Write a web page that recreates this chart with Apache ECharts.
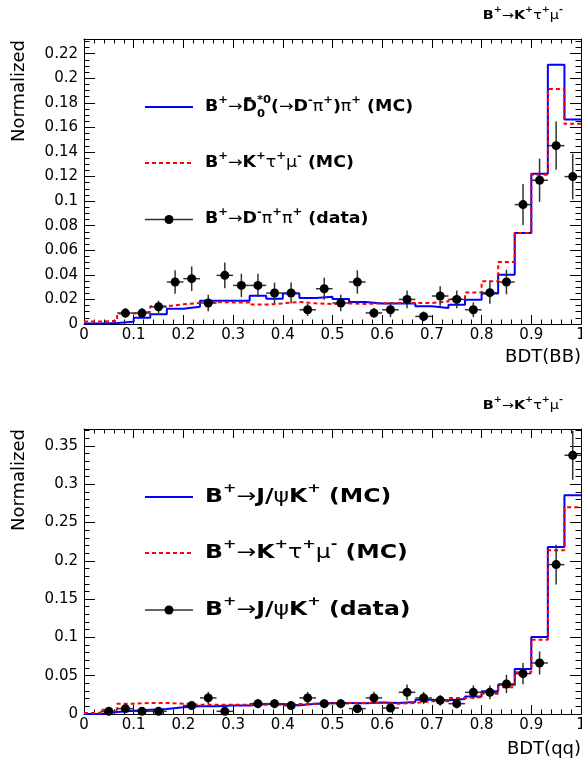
<!DOCTYPE html>
<html>
<head>
<meta charset="utf-8">
<script src="https://cdn.jsdelivr.net/npm/echarts@6/dist/echarts.min.js"></script>
<style>
  html, body { margin: 0; padding: 0; background: #fff; }
  #chart { width: 582px; height: 764px; }
</style>
</head>
<body>
<div id="chart"></div>
<script>
const FONT = 'DejaVu Sans';

// binning of the BDT output
const binLo = 0, binHi = 1, nBins = 30;
const binW = (binHi - binLo) / nBins;
const binEdges = Array.from({ length: nBins + 1 }, (_, i) => binLo + i * binW);

// top panel : BDT(BB)
const bbControlMC = [0.0005, 0.0008, 0.0018, 0.005, 0.008, 0.0125, 0.014, 0.019, 0.019, 0.019,
  0.023, 0.0206, 0.0249, 0.0212, 0.0222, 0.0203, 0.0179, 0.0166, 0.0166, 0.0166,
  0.0144, 0.013, 0.0157, 0.0198, 0.0248, 0.040, 0.0741, 0.1224, 0.211, 0.1664];
const bbSignalMC = [0.002, 0.0025, 0.0085, 0.010, 0.0145, 0.016, 0.0172, 0.0178, 0.0176, 0.0176,
  0.0158, 0.0168, 0.018, 0.0168, 0.0163, 0.0168, 0.0163, 0.0168, 0.0171, 0.0171,
  0.0171, 0.0184, 0.0203, 0.0257, 0.0347, 0.0505, 0.0741, 0.1215, 0.1913, 0.163];
const bbData = [null, null, 0.0089, 0.0089, 0.014, 0.0342, 0.0369, 0.0171, 0.0396, 0.0314,
  0.0314, 0.0252, 0.0252, 0.0116, 0.0287, 0.0171, 0.0342, 0.009, 0.0116, 0.020,
  0.0062, 0.0228, 0.020, 0.0116, 0.0255, 0.0342, 0.0972, 0.117, 0.1452, 0.120];
const bbErr = [null, null, 0.004, 0.004, 0.005, 0.0095, 0.010, 0.0068, 0.0104, 0.0095,
  0.0095, 0.0085, 0.0085, 0.005, 0.009, 0.0068, 0.0095, 0.004, 0.006, 0.0072,
  0.004, 0.008, 0.0072, 0.006, 0.009, 0.010, 0.0167, 0.0176, 0.0197, 0.0186];

// bottom panel : BDT(qq)
const qqControlMC = [0, 0.0026, 0.0044, 0.0057, 0.0065, 0.0087, 0.010, 0.010, 0.011, 0.011,
  0.013, 0.013, 0.0113, 0.0135, 0.0144, 0.0144, 0.014, 0.015, 0.0144, 0.0157,
  0.0187, 0.0178, 0.0196, 0.023, 0.0296, 0.0383, 0.0587, 0.1005, 0.218, 0.2855];
const qqSignalMC = [0.0013, 0.0057, 0.0135, 0.0144, 0.0144, 0.0135, 0.0122, 0.0122, 0.0122, 0.0122,
  0.0122, 0.0122, 0.013, 0.0135, 0.0144, 0.0144, 0.0144, 0.015, 0.0135, 0.0144,
  0.0165, 0.0165, 0.0209, 0.022, 0.0265, 0.0348, 0.0544, 0.097, 0.2137, 0.2698];
const qqData = [null, 0.0035, 0.007, 0.0035, 0.0035, null, 0.011, 0.021, 0.0035, null,
  0.0135, 0.0135, 0.011, 0.021, 0.0135, 0.0135, 0.007, 0.021, 0.0078, 0.0283,
  0.0209, 0.0178, 0.0135, 0.0283, 0.0283, 0.0392, 0.0527, 0.0666, 0.195, 0.3377];
const qqErr = [null, 0.003, 0.004, 0.003, 0.003, null, 0.005, 0.008, 0.003, null,
  0.006, 0.006, 0.005, 0.008, 0.006, 0.006, 0.004, 0.008, 0.005, 0.0102,
  0.008, 0.007, 0.006, 0.009, 0.009, 0.012, 0.014, 0.015, 0.026, 0.032];

function stepData(vals) {
  return binEdges.map((e, i) => [e, vals[Math.min(i, vals.length - 1)]]);
}

function pointData(vals, errs) {
  return vals
    .map((v, i) => (v == null ? null : [binLo + (i + 0.5) * binW, v, errs[i]]))
    .filter(Boolean);
}

function renderPoint(params, api) {
  const x = api.value(0), y = api.value(1), e = api.value(2);
  const l = api.coord([x - binW / 2, y]);
  const r = api.coord([x + binW / 2, y]);
  const t = api.coord([x, y + e]);
  const b = api.coord([x, y - e]);
  const c = api.coord([x, y]);
  const bar = { stroke: '#333', lineWidth: 1.5 };
  return {
    type: 'group',
    children: [
      { type: 'line', shape: { x1: l[0], y1: l[1], x2: r[0], y2: r[1] }, style: bar },
      { type: 'line', shape: { x1: t[0], y1: t[1], x2: b[0], y2: b[1] }, style: bar },
      { type: 'circle', shape: { cx: c[0], cy: c[1], r: 4.5 }, style: { fill: '#000' } }
    ]
  };
}

function xAx(grid, pos) {
  return {
    type: 'value', gridIndex: grid, position: pos,
    min: 0, max: 1, interval: 0.1,
    axisLine: { show: true, onZero: false, lineStyle: { color: '#000', width: 1 } },
    axisTick: { show: true, inside: true, length: 9, lineStyle: { color: '#000' } },
    minorTick: { show: true, splitNumber: 5, length: 4.5, lineStyle: { color: '#000' } },
    axisLabel: { show: pos === 'bottom', margin: 4, fontFamily: FONT, fontSize: 15, color: '#000' },
    splitLine: { show: false }
  };
}

function yAx(grid, pos, max, step, minor) {
  return {
    type: 'value', gridIndex: grid, position: pos,
    min: 0, max: max, interval: step,
    axisLine: { show: true, onZero: false, lineStyle: { color: '#000', width: 1 } },
    axisTick: { show: true, inside: true, length: 11, lineStyle: { color: '#000' } },
    minorTick: { show: true, splitNumber: minor, length: 5.5, lineStyle: { color: '#000' } },
    axisLabel: { show: pos === 'left', showMaxLabel: false, margin: 6,
      fontFamily: FONT, fontSize: 15, color: '#000' },
    splitLine: { show: false }
  };
}

function histSeries(axis, vals, color, dashed) {
  return {
    type: 'line', xAxisIndex: axis, yAxisIndex: axis,
    data: stepData(vals), step: 'end', symbol: 'none', silent: true,
    lineStyle: { color: color, width: 2, type: dashed ? [4, 3] : 'solid' },
    z: dashed ? 3 : 2
  };
}

function dataSeries(axis, vals, errs) {
  return {
    type: 'custom', xAxisIndex: axis, yAxisIndex: axis,
    data: pointData(vals, errs), encode: { x: 0, y: 1 },
    renderItem: renderPoint, z: 4
  };
}

function rich(size) {
  const lh = Math.round(size * 1.6);
  const base = { fontFamily: FONT, color: '#000' };
  return {
    b: Object.assign({ fontWeight: 'bold', fontSize: size, lineHeight: lh }, base),
    g: Object.assign({ fontSize: size, lineHeight: lh }, base),
    sup: Object.assign({ fontWeight: 'bold', fontSize: Math.round(size * 0.67),
      lineHeight: Math.round(lh * 0.55), verticalAlign: 'top' }, base),
    supz: Object.assign({ fontWeight: 'bold', fontSize: Math.round(size * 0.67),
      lineHeight: Math.round(lh * 0.55), verticalAlign: 'top', width: 0 }, base),
    sub: Object.assign({ fontWeight: 'bold', fontSize: Math.round(size * 0.67),
      lineHeight: Math.round(lh * 0.25), verticalAlign: 'bottom', width: Math.round(size * 0.8) }, base),
    ov: Object.assign({ fontWeight: 'bold', fontSize: Math.round(size * 1.25),
      lineHeight: lh, width: 0 }, base)
  };
}

// the original text is set a little wider than our font, hence the scaleX
function label(x, y, text, size, align, stretch) {
  return {
    type: 'text', x: x, y: y, scaleX: stretch || 1, silent: true,
    style: { text: text, rich: rich(size), align: align || 'left', verticalAlign: 'middle' }
  };
}

function legendRow(y, kind, text, size, stretch) {
  const items = [];
  if (kind === 'blue') {
    items.push({ type: 'line', shape: { x1: 145, y1: y, x2: 193, y2: y }, style: { stroke: '#0000ff', lineWidth: 2 } });
  } else if (kind === 'red') {
    items.push({ type: 'line', shape: { x1: 145, y1: y, x2: 193, y2: y }, style: { stroke: '#ff0000', lineWidth: 2, lineDash: [4, 3] } });
  } else {
    items.push({ type: 'line', shape: { x1: 145, y1: y, x2: 193, y2: y }, style: { stroke: '#333', lineWidth: 1.5 } });
    items.push({ type: 'circle', shape: { cx: 169, cy: y, r: 4.5 }, style: { fill: '#000' } });
  }
  items.push(label(205, y, text, size, 'left', stretch));
  return items;
}

const decayTitle = '{b|B}{sup|+}{g|→}{b|K}{sup|+}{g|τ}{sup|+}{g|μ}{sup|-}';
const bbLegend = [
  '{b|B}{sup|+}{g|→}{ov|¯}{b|D}{supz|*0}{sub|0}{b|(}{g|→}{b|D}{sup|-}{g|π}{sup|+}{b|)}{g|π}{sup|+}{b| (MC)}',
  '{b|B}{sup|+}{g|→}{b|K}{sup|+}{g|τ}{sup|+}{g|μ}{sup|-}{b| (MC)}',
  '{b|B}{sup|+}{g|→}{b|D}{sup|-}{g|π}{sup|+}{g|π}{sup|+}{b| (data)}'
];
const qqLegend = [
  '{b|B}{sup|+}{g|→}{b|J/}{g|ψ}{b|K}{sup|+}{b| (MC)}',
  '{b|B}{sup|+}{g|→}{b|K}{sup|+}{g|τ}{sup|+}{g|μ}{sup|-}{b| (MC)}',
  '{b|B}{sup|+}{g|→}{b|J/}{g|ψ}{b|K}{sup|+}{b| (data)}'
];

function axisTitle(x, y, text, rotate) {
  return {
    type: 'text', x: x, y: y, rotation: rotate ? Math.PI / 2 : 0, silent: true,
    style: { text: text, fontFamily: FONT, fontSize: 18, fill: '#000',
      align: 'right', verticalAlign: 'middle' }
  };
}

const graphics = [].concat(
  [label(563, 15.5, decayTitle, 12, 'right', 1.2), label(563, 405.5, decayTitle, 12, 'right', 1.2)],
  [axisTitle(19.5, 40, 'Normalized', true), axisTitle(19.5, 429, 'Normalized', true)],
  [axisTitle(581, 357, 'BDT(BB)'), axisTitle(581, 749, 'BDT(qq)')],
  legendRow(107, 'blue', bbLegend[0], 15, 1.16),
  legendRow(163, 'red', bbLegend[1], 15, 1.16),
  legendRow(219.5, 'data', bbLegend[2], 15, 1.16),
  legendRow(497, 'blue', qqLegend[0], 19, 1.24),
  legendRow(553, 'red', qqLegend[1], 19, 1.24),
  legendRow(610, 'data', qqLegend[2], 19, 1.24)
);

const option = {
  animation: false,
  backgroundColor: '#fff',
  grid: [
    { left: 84, top: 39, width: 497, height: 285, outerBoundsMode: 'none' },
    { left: 84, top: 429, width: 497, height: 285, outerBoundsMode: 'none' }
  ],
  xAxis: [xAx(0, 'bottom'), xAx(0, 'top'), xAx(1, 'bottom'), xAx(1, 'top')],
  yAxis: [
    yAx(0, 'left', 0.232, 0.02, 4), yAx(0, 'right', 0.232, 0.02, 4),
    yAx(1, 'left', 0.372, 0.05, 5), yAx(1, 'right', 0.372, 0.05, 5)
  ],
  series: [
    histSeries(0, bbControlMC, '#0000ff', false),
    histSeries(0, bbSignalMC, '#ff0000', true),
    dataSeries(0, bbData, bbErr),
    histSeries(2, qqControlMC, '#0000ff', false),
    histSeries(2, qqSignalMC, '#ff0000', true),
    dataSeries(2, qqData, qqErr)
  ],
  graphic: graphics
};

let myChart = echarts.init(document.getElementById('chart'));
myChart.setOption(option);
</script>
</body>
</html>
